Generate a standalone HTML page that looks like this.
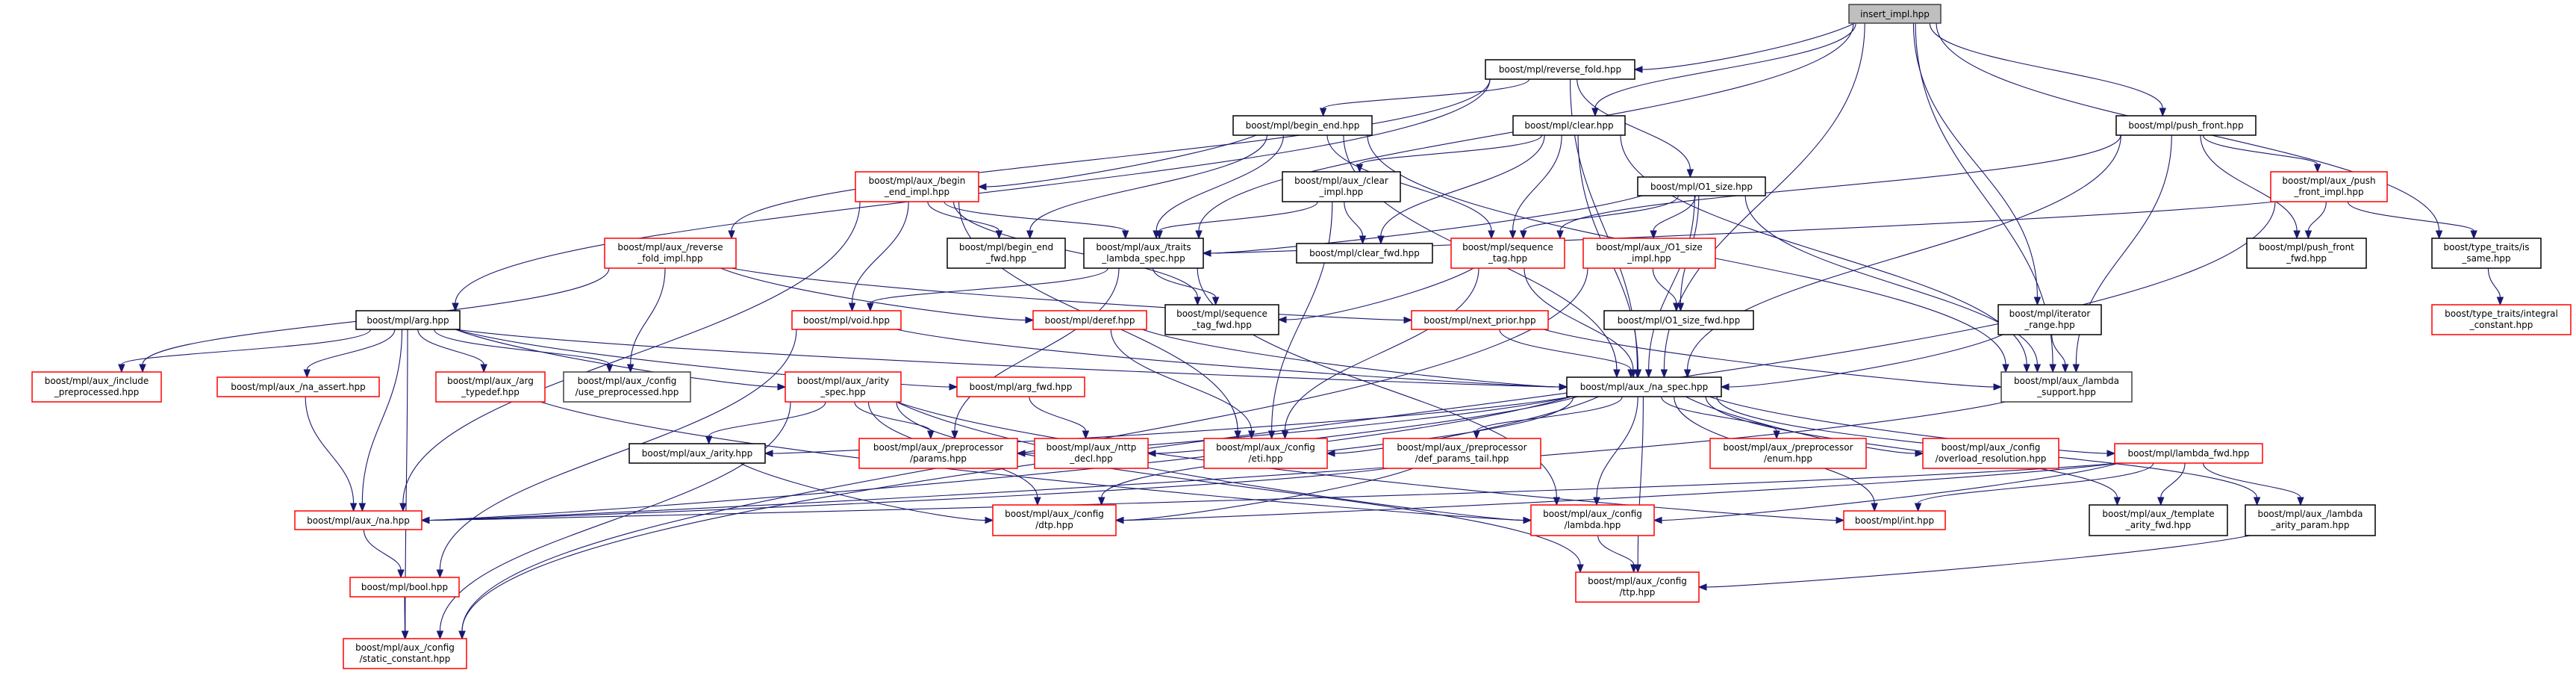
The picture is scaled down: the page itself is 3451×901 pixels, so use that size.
<!DOCTYPE html>
<html><head><meta charset="utf-8">
<style>
html,body{margin:0;padding:0;background:#fff;}
svg{display:block;}
text{font-family:"DejaVu Sans","Liberation Sans",sans-serif;font-size:12px;fill:#000;}
</style></head>
<body>
<svg id="g" width="3451" height="901" viewBox="0 0 3451 901" xmlns="http://www.w3.org/2000/svg">
<g id="edges" fill="none" stroke="#191970" stroke-width="1.1"></g>
<g id="arrows" fill="#191970" stroke="#191970"></g>
<g id="nodes" stroke-width="1.5">
<rect x="2477" y="6" width="123" height="25" fill="#bfbfbf" stroke="#404040"/><text x="2538.5" y="23" text-anchor="middle">insert_impl.hpp</text>
<rect x="1990" y="80" width="200" height="26" fill="#fff" stroke="#000"/><text x="2090" y="97" text-anchor="middle">boost/mpl/reverse_fold.hpp</text>
<rect x="1652" y="155" width="186" height="26" fill="#fff" stroke="#000"/><text x="1745" y="172" text-anchor="middle">boost/mpl/begin_end.hpp</text>
<rect x="2027" y="155" width="150" height="26" fill="#fff" stroke="#000"/><text x="2102" y="172" text-anchor="middle">boost/mpl/clear.hpp</text>
<rect x="2835" y="155" width="187" height="26" fill="#fff" stroke="#000"/><text x="2928.5" y="172" text-anchor="middle">boost/mpl/push_front.hpp</text>
<rect x="1146" y="230" width="165" height="40" fill="#fff" stroke="#f00"/><text x="1228.5" y="246" text-anchor="middle">boost/mpl/aux_/begin</text><text x="1228.5" y="261" text-anchor="middle">_end_impl.hpp</text>
<rect x="1718" y="230" width="158" height="40" fill="#fff" stroke="#000"/><text x="1797" y="246" text-anchor="middle">boost/mpl/aux_/clear</text><text x="1797" y="261" text-anchor="middle">_impl.hpp</text>
<rect x="2194" y="237" width="171" height="25" fill="#fff" stroke="#000"/><text x="2279.5" y="254" text-anchor="middle">boost/mpl/O1_size.hpp</text>
<rect x="3042" y="230" width="156" height="40" fill="#fff" stroke="#f00"/><text x="3120" y="246" text-anchor="middle">boost/mpl/aux_/push</text><text x="3120" y="261" text-anchor="middle">_front_impl.hpp</text>
<rect x="810" y="319" width="176" height="40" fill="#fff" stroke="#f00"/><text x="898" y="335" text-anchor="middle">boost/mpl/aux_/reverse</text><text x="898" y="350" text-anchor="middle">_fold_impl.hpp</text>
<rect x="1269" y="319" width="158" height="40" fill="#fff" stroke="#000"/><text x="1348" y="335" text-anchor="middle">boost/mpl/begin_end</text><text x="1348" y="350" text-anchor="middle">_fwd.hpp</text>
<rect x="1452" y="319" width="160" height="40" fill="#fff" stroke="#000"/><text x="1532" y="335" text-anchor="middle">boost/mpl/aux_/traits</text><text x="1532" y="350" text-anchor="middle">_lambda_spec.hpp</text>
<rect x="1737" y="326" width="182" height="26" fill="#fff" stroke="#000"/><text x="1828" y="343" text-anchor="middle">boost/mpl/clear_fwd.hpp</text>
<rect x="1944" y="319" width="152" height="40" fill="#fff" stroke="#f00"/><text x="2020" y="335" text-anchor="middle">boost/mpl/sequence</text><text x="2020" y="350" text-anchor="middle">_tag.hpp</text>
<rect x="2121" y="319" width="177" height="40" fill="#fff" stroke="#f00"/><text x="2209.5" y="335" text-anchor="middle">boost/mpl/aux_/O1_size</text><text x="2209.5" y="350" text-anchor="middle">_impl.hpp</text>
<rect x="3010" y="319" width="160" height="40" fill="#fff" stroke="#000"/><text x="3090" y="335" text-anchor="middle">boost/mpl/push_front</text><text x="3090" y="350" text-anchor="middle">_fwd.hpp</text>
<rect x="3258" y="319" width="146" height="40" fill="#fff" stroke="#000"/><text x="3331" y="335" text-anchor="middle">boost/type_traits/is</text><text x="3331" y="350" text-anchor="middle">_same.hpp</text>
<rect x="477" y="416" width="139" height="25" fill="#fff" stroke="#000"/><text x="546.5" y="433" text-anchor="middle">boost/mpl/arg.hpp</text>
<rect x="1061" y="416" width="146" height="25" fill="#fff" stroke="#f00"/><text x="1134" y="433" text-anchor="middle">boost/mpl/void.hpp</text>
<rect x="1384" y="416" width="152" height="25" fill="#fff" stroke="#f00"/><text x="1460" y="433" text-anchor="middle">boost/mpl/deref.hpp</text>
<rect x="1561" y="408" width="152" height="40" fill="#fff" stroke="#000"/><text x="1637" y="424" text-anchor="middle">boost/mpl/sequence</text><text x="1637" y="439" text-anchor="middle">_tag_fwd.hpp</text>
<rect x="1891" y="416" width="183" height="25" fill="#fff" stroke="#f00"/><text x="1982.5" y="433" text-anchor="middle">boost/mpl/next_prior.hpp</text>
<rect x="2149" y="416" width="200" height="25" fill="#fff" stroke="#000"/><text x="2249" y="433" text-anchor="middle">boost/mpl/O1_size_fwd.hpp</text>
<rect x="2677" y="408" width="138" height="40" fill="#fff" stroke="#000"/><text x="2746" y="424" text-anchor="middle">boost/mpl/iterator</text><text x="2746" y="439" text-anchor="middle">_range.hpp</text>
<rect x="3258" y="408" width="186" height="40" fill="#fff" stroke="#f00"/><text x="3351" y="424" text-anchor="middle">boost/type_traits/integral</text><text x="3351" y="439" text-anchor="middle">_constant.hpp</text>
<rect x="43" y="498" width="173" height="40" fill="#fff" stroke="#f00"/><text x="129.5" y="514" text-anchor="middle">boost/mpl/aux_/include</text><text x="129.5" y="529" text-anchor="middle">_preprocessed.hpp</text>
<rect x="291" y="505" width="217" height="26" fill="#fff" stroke="#f00"/><text x="399.5" y="522" text-anchor="middle">boost/mpl/aux_/na_assert.hpp</text>
<rect x="584" y="498" width="146" height="40" fill="#fff" stroke="#f00"/><text x="657" y="514" text-anchor="middle">boost/mpl/aux_/arg</text><text x="657" y="529" text-anchor="middle">_typedef.hpp</text>
<rect x="755" y="498" width="170" height="40" fill="#fff" stroke="#404040"/><text x="840" y="514" text-anchor="middle">boost/mpl/aux_/config</text><text x="840" y="529" text-anchor="middle">/use_preprocessed.hpp</text>
<rect x="1052" y="498" width="155" height="40" fill="#fff" stroke="#f00"/><text x="1129.5" y="514" text-anchor="middle">boost/mpl/aux_/arity</text><text x="1129.5" y="529" text-anchor="middle">_spec.hpp</text>
<rect x="1282" y="505" width="171" height="26" fill="#fff" stroke="#f00"/><text x="1367.5" y="522" text-anchor="middle">boost/mpl/arg_fwd.hpp</text>
<rect x="2099" y="505" width="207" height="26" fill="#fff" stroke="#000"/><text x="2202.5" y="522" text-anchor="middle">boost/mpl/aux_/na_spec.hpp</text>
<rect x="2681" y="498" width="175" height="40" fill="#fff" stroke="#404040"/><text x="2768.5" y="514" text-anchor="middle">boost/mpl/aux_/lambda</text><text x="2768.5" y="529" text-anchor="middle">_support.hpp</text>
<rect x="1151" y="587" width="212" height="40" fill="#fff" stroke="#f00"/><text x="1257" y="603" text-anchor="middle">boost/mpl/aux_/preprocessor</text><text x="1257" y="618" text-anchor="middle">/params.hpp</text>
<rect x="1386" y="587" width="152" height="40" fill="#fff" stroke="#f00"/><text x="1462" y="603" text-anchor="middle">boost/mpl/aux_/nttp</text><text x="1462" y="618" text-anchor="middle">_decl.hpp</text>
<rect x="1613" y="587" width="165" height="40" fill="#fff" stroke="#f00"/><text x="1695.5" y="603" text-anchor="middle">boost/mpl/aux_/config</text><text x="1695.5" y="618" text-anchor="middle">/eti.hpp</text>
<rect x="1853" y="587" width="211" height="40" fill="#fff" stroke="#f00"/><text x="1958.5" y="603" text-anchor="middle">boost/mpl/aux_/preprocessor</text><text x="1958.5" y="618" text-anchor="middle">/def_params_tail.hpp</text>
<rect x="2291" y="587" width="209" height="40" fill="#fff" stroke="#f00"/><text x="2395.5" y="603" text-anchor="middle">boost/mpl/aux_/preprocessor</text><text x="2395.5" y="618" text-anchor="middle">/enum.hpp</text>
<rect x="2576" y="587" width="182" height="40" fill="#fff" stroke="#f00"/><text x="2667" y="603" text-anchor="middle">boost/mpl/aux_/config</text><text x="2667" y="618" text-anchor="middle">/overload_resolution.hpp</text>
<rect x="843" y="594" width="182" height="26" fill="#fff" stroke="#000"/><text x="934" y="611" text-anchor="middle">boost/mpl/aux_/arity.hpp</text>
<rect x="2833" y="594" width="198" height="26" fill="#fff" stroke="#f00"/><text x="2932" y="611" text-anchor="middle">boost/mpl/lambda_fwd.hpp</text>
<rect x="395" y="684" width="170" height="25" fill="#fff" stroke="#f00"/><text x="480" y="701" text-anchor="middle">boost/mpl/aux_/na.hpp</text>
<rect x="1330" y="676" width="165" height="41" fill="#fff" stroke="#f00"/><text x="1412.5" y="692" text-anchor="middle">boost/mpl/aux_/config</text><text x="1412.5" y="707" text-anchor="middle">/dtp.hpp</text>
<rect x="2051" y="676" width="165" height="41" fill="#fff" stroke="#f00"/><text x="2133.5" y="692" text-anchor="middle">boost/mpl/aux_/config</text><text x="2133.5" y="707" text-anchor="middle">/lambda.hpp</text>
<rect x="2470" y="684" width="136" height="25" fill="#fff" stroke="#f00"/><text x="2538" y="701" text-anchor="middle">boost/mpl/int.hpp</text>
<rect x="2799" y="676" width="185" height="41" fill="#fff" stroke="#000"/><text x="2891.5" y="692" text-anchor="middle">boost/mpl/aux_/template</text><text x="2891.5" y="707" text-anchor="middle">_arity_fwd.hpp</text>
<rect x="3008" y="676" width="174" height="41" fill="#fff" stroke="#000"/><text x="3095" y="692" text-anchor="middle">boost/mpl/aux_/lambda</text><text x="3095" y="707" text-anchor="middle">_arity_param.hpp</text>
<rect x="469" y="773" width="146" height="26" fill="#fff" stroke="#f00"/><text x="542" y="790" text-anchor="middle">boost/mpl/bool.hpp</text>
<rect x="2111" y="766" width="165" height="40" fill="#fff" stroke="#f00"/><text x="2193.5" y="782" text-anchor="middle">boost/mpl/aux_/config</text><text x="2193.5" y="797" text-anchor="middle">/ttp.hpp</text>
<rect x="460" y="855" width="165" height="40" fill="#fff" stroke="#f00"/><text x="542.5" y="871" text-anchor="middle">boost/mpl/aux_/config</text><text x="542.5" y="886" text-anchor="middle">/static_constant.hpp</text>
</g>
</svg>
<script>
var N={
ins:[2477,6,2600,31],rf:[1990,80,2190,106],be:[1652,155,1838,181],cl:[2027,155,2177,181],pf:[2835,155,3022,181],
bei:[1146,230,1311,270],cli:[1718,230,1876,270],o1:[2194,237,2365,262],pfi:[3042,230,3198,270],
rfi:[810,319,986,359],bef:[1269,319,1427,359],tls:[1452,319,1612,359],clf:[1737,326,1919,352],st:[1944,319,2096,359],
o1i:[2121,319,2298,359],pff:[3010,319,3170,359],iss:[3258,319,3404,359],
arg:[477,416,616,441],vd:[1061,416,1207,441],dr:[1384,416,1536,441],stf:[1561,408,1713,448],np:[1891,416,2074,441],
o1f:[2149,416,2349,441],ir:[2677,408,2815,448],ic:[3258,408,3444,448],
inc:[43,498,216,538],nas:[291,505,508,531],at:[584,498,730,538],up:[755,498,925,538],as:[1052,498,1207,538],
af:[1282,505,1453,531],ns:[2099,505,2306,531],ls:[2681,498,2856,538],
pp:[1151,587,1363,627],nt:[1386,587,1538,627],eti:[1613,587,1778,627],dpt:[1853,587,2064,627],en:[2291,587,2500,627],
ov:[2576,587,2758,627],ar:[843,594,1025,620],lf:[2833,594,3031,620],
na:[395,684,565,709],dtp:[1330,676,1495,717],lc:[2051,676,2216,717],int:[2470,684,2606,709],taf:[2799,676,2984,717],lap:[3008,676,3182,717],
bl:[469,773,615,799],ttp:[2111,766,2276,806],sc:[460,855,625,895]};
var E="ins rf,ins tls,ins cl,ins ns,ins ir,ins pf,ins iss,ins ls,"+
"rf be,rf o1,rf arg,rf rfi,rf ns,"+
"be bei,be bef,be st,be tls,be ns,be ls,"+
"cl cli,cl clf,cl st,cl ns,cl ls,"+
"bei bef,bei tls,bei vd,bei eti,bei na,bei stf,"+
"cli clf,cli tls,cli eti,"+
"o1 o1i,o1 o1f,o1 st,o1 ns,o1 ls,o1 tls,"+
"o1i o1f,o1i sc,"+
"pf pfi,pf pff,pf st,pf ns,pf ls,"+
"pfi pff,pfi iss,pfi tls,pfi sc,iss ic,"+
"rfi inc,rfi up,rfi dr,rfi np,"+
"tls vd,tls stf,tls pp,tls lc,"+
"st stf,st ns,st eti,"+
"arg inc,arg nas,arg at,arg up,arg as,arg na,arg af,arg sc,arg ns,"+
"vd ns,vd bl,dr ns,dr eti,np ns,np ls,ir ns,ir ls,"+
"as pp,as ar,as int,as sc,as dtp,as ttp,as lc,af nt,"+
"ns pp,ns nt,ns eti,ns dpt,ns en,ns ov,ns lf,ns int,ns lc,ns ttp,ns dtp,ns na,ns ar,ns taf,ns lap,"+
"nas na,at lc,na bl,bl sc,ls na,"+
"lf na,lf dtp,lf lc,lf int,lf taf,lf lap,lc ttp,lap ttp,dpt dtp,dpt na,ar dtp";
var NS="http://www.w3.org/2000/svg",eg=document.getElementById('edges'),ag=document.getElementById('arrows');
function cx(b){return (b[0]+b[2])/2}
E.split(',').forEach(function(p){
 var a=p.split(' '),s=N[a[0]],t=N[a[1]];if(!s||!t)return;
 var sx,sy,tx,ty,c1x,c1y,c2x,c2y;
 if(t[1]>s[3]+5){
  var ws=(s[2]-s[0])/2-6,wt=(t[2]-t[0])/2-6;
  sx=cx(s)+Math.max(-ws,Math.min(ws,(cx(t)-cx(s))*0.12));sy=s[3];
  tx=cx(t)+Math.max(-wt,Math.min(wt,(cx(s)-cx(t))*0.08));ty=t[1];
  var dy=ty-sy;c1x=sx;c1y=sy+dy*0.45;c2x=tx;c2y=ty-dy*0.45;
  if(Math.abs(tx-sx)>dy*6){
   ty=(t[1]+t[3])/2; tx=(tx>sx)?t[0]:t[2]; c2x=tx+(tx>sx?-60:60);c2y=ty;c1x=sx+(tx-sx)*0.2;c1y=sy+dy*0.6;
  }
 } else {
  sy=(s[1]+s[3])/2;ty=(t[1]+t[3])/2;
  if(cx(t)<cx(s)){sx=s[0];tx=t[2];}else{sx=s[2];tx=t[0];}
  var dx=tx-sx;c1x=sx+dx*0.4;c1y=sy;c2x=tx-dx*0.4;c2y=ty;
 }
 var vx=tx-c2x,vy=ty-c2y,L=Math.sqrt(vx*vx+vy*vy)||1;vx/=L;vy/=L;
 var bx=tx-vx*10,by=ty-vy*10;
 var path=document.createElementNS(NS,'path');
 path.setAttribute('d','M'+sx+','+sy+' C'+c1x+','+c1y+' '+c2x+','+c2y+' '+bx+','+by);
 eg.appendChild(path);
 var pg=document.createElementNS(NS,'polygon');
 pg.setAttribute('points',tx+','+ty+' '+(bx-vy*4)+','+(by+vx*4)+' '+(bx+vy*4)+','+(by-vx*4));
 ag.appendChild(pg);
});
</script>
</body></html>
